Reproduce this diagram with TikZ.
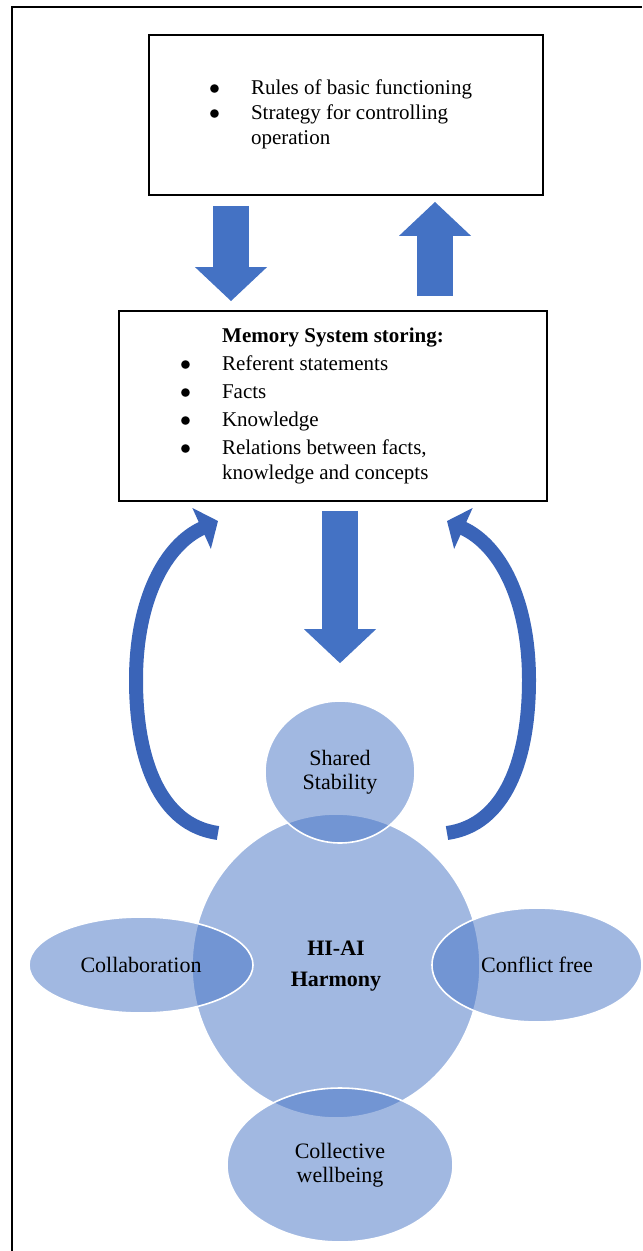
\documentclass[tikz,border=0pt]{standalone}
\usepackage{fontspec}
\setmainfont{Liberation Serif}
\usepackage{array}
\usepackage{tikz}
\usetikzlibrary{calc,positioning,arrows.meta,shapes.geometric}
\tikzset{>=latex}
\definecolor{blockblue}{HTML}{4472C4}
\definecolor{bendblue}{HTML}{3A64B8}

\begin{document}
\begin{tikzpicture}[x=0.5pt,y=-0.5pt,
    box/.style={draw=black,line width=0.9pt,inner sep=0pt,font=\fontsize{10.5}{12.5}\selectfont},
    bubble/.style={ellipse,fill=blockblue,fill opacity=0.5,text opacity=1,draw=white,draw opacity=1,line width=0.8pt,inner sep=0pt,align=center,font=\fontsize{11}{12}\selectfont},
    fat/.style={line width=18pt,blockblue,-{Triangle[width=35pt,length=17pt]}},
    curvedarrow/.style={line width=7pt,bendblue,-{Triangle[width=22pt,length=9pt]}}]
              \useasboundingbox (0,0) rectangle (642,1251);
              \draw[line width=1.3pt] (12,1251) -- (12,7) -- (642,7);

              \node[box,minimum width=197pt,minimum height=80pt] (rules) at (346,115) {%
                \begin{tabular}{@{}p{21pt}@{}>{\raggedright\arraybackslash}p{116pt}@{}}
                $\bullet$ & Rules of basic functioning\\
                $\bullet$ & Strategy for controlling operation
                \end{tabular}};
              \node[box,minimum width=214pt,minimum height=95pt] (memory) at (333,406) {%
                \begin{tabular}{@{}p{21pt}@{}>{\raggedright\arraybackslash}p{132pt}@{}}
                \multicolumn{2}{c}{\textbf{Memory System storing:}}\\[1.5pt]
                $\bullet$ & Referent statements\\[1.5pt]
                $\bullet$ & Facts\\[1.5pt]
                $\bullet$ & Knowledge\\[1.5pt]
                $\bullet$ & Relations between facts, knowledge and concepts
                \end{tabular}};

              \node[bubble,minimum width=144pt,minimum height=152pt] (harmony) at (336,966) {\textbf{HI-AI}\\[3.5pt]\textbf{Harmony}};
              \node[bubble,minimum width=75pt,minimum height=71pt] (shared) at (340,772) {Shared\\Stability};
              \node[bubble,minimum width=112pt,minimum height=48pt] (collab) at (141,965) {Collaboration};
              \node[bubble,minimum width=105pt,minimum height=57pt] (conflict) at (537,965) {Conflict free};
              \node[bubble,minimum width=113pt,minimum height=77pt] (wellbeing) at (340,1165) {Collective\\wellbeing};

              \coordinate (downx) at (231,0);
              \coordinate (upx) at (435,0);
              \coordinate (midx) at (340,0);
              \draw[fat,shorten <=5pt,shorten >=4.5pt] (downx |- rules.south) -- (downx |- memory.north);
              \draw[fat,shorten <=7pt,shorten >=3pt] (upx |- memory.north) -- (upx |- rules.south);
              \draw[fat,shorten <=4.5pt,shorten >=18.5pt] (midx |- memory.south) -- (midx |- shared.north);

              \coordinate (ltail) at (218,833);
              \coordinate (lhead) at (218,521);
              \coordinate (rtail) at (447,833);
              \coordinate (rhead) at (447,521);
              \draw[curvedarrow] (ltail) .. controls (160,825) and (136,760) .. (136,680) .. controls (136,600) and (165,545) .. (lhead);
              \draw[curvedarrow] (rtail) .. controls (505,825) and (529,760) .. (529,680) .. controls (529,600) and (500,545) .. (rhead);
\end{tikzpicture}
\end{document}
